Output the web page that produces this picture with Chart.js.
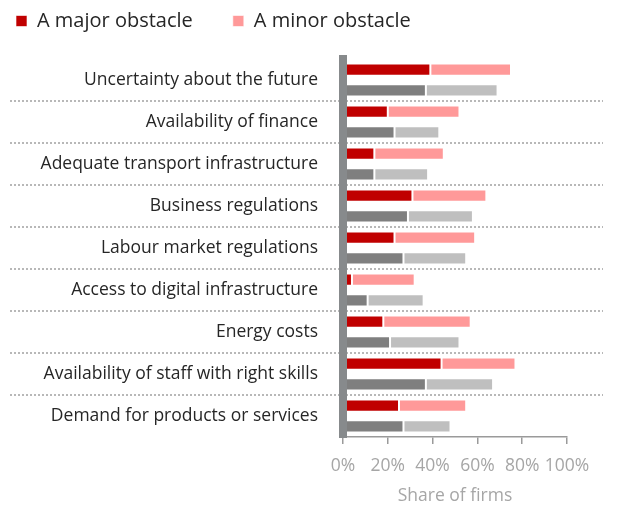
<!DOCTYPE html>
<html><head><meta charset="utf-8">
<script src="https://cdn.jsdelivr.net/npm/chart.js@4/dist/chart.umd.min.js"></script>
<style>html,body{margin:0;padding:0;background:#fff}#wrap{width:621px;height:506px;position:relative}</style>
</head><body><div id="wrap"><canvas id="c" width="621" height="506"></canvas></div>
<script>
const categories = ["Uncertainty about the future","Availability of finance","Adequate transport infrastructure","Business regulations","Labour market regulations","Access to digital infrastructure","Energy costs","Availability of staff with right skills","Demand for products or services"];
const majorLatest = [39, 20, 14, 31, 23, 4, 18, 44, 25];
const minorLatest = [36, 32, 31, 33, 36, 28, 39, 33, 30];
const majorPrev = [37, 23, 14, 29, 27, 11, 21, 37, 27];
const minorPrev = [32, 20, 24, 29, 28, 25, 31, 30, 21];
const xTicks = [0, 20, 40, 60, 80, 100];

const separators = {
  id: 'separators',
  beforeDatasetsDraw(chart) {
    const y = chart.scales.y, ctx = chart.ctx;
    ctx.save();
    ctx.strokeStyle = '#b8b8b8';
    ctx.lineWidth = 2;
    ctx.setLineDash([2, 2]);
    for (let i = 0; i < categories.length - 1; i++) {
      const p = Math.round((y.getPixelForValue(i) + y.getPixelForValue(i + 1)) / 2);
      ctx.beginPath(); ctx.moveTo(10, p); ctx.lineTo(603, p); ctx.stroke();
    }
    ctx.restore();
  }
};

Chart.defaults.font.family = "'Open Sans', sans-serif";
const common = {borderWidth: 1, borderColor: 'rgba(255,255,255,0.6)', borderSkipped: false, categoryPercentage: 0.99, barPercentage: 0.58};
new Chart(document.getElementById('c'), {
  type: 'bar',
  data: {
    labels: categories,
    datasets: [
      Object.assign({label: 'A major obstacle', data: majorLatest, backgroundColor: '#C00000', stack: 'a'}, common),
      Object.assign({label: 'A minor obstacle', data: minorLatest, backgroundColor: '#FF9999', stack: 'a'}, common),
      Object.assign({label: 'A major obstacle (previous)', data: majorPrev, backgroundColor: '#7F7F7F', stack: 'b'}, common),
      Object.assign({label: 'A minor obstacle (previous)', data: minorPrev, backgroundColor: '#BFBFBF', stack: 'b'}, common)
    ]
  },
  options: {
    indexAxis: 'y',
    responsive: false,
    animation: false,
    layout: {padding: {left: -24, right: 54, top: -29, bottom: 0}},
    plugins: {
      tooltip: {enabled: false},
      title: {display: true, text: '', position: 'top', weight: 500, padding: {top: 0, bottom: 6}, font: {size: 10}},
      legend: {
        position: 'top', align: 'start',
        labels: {
          filter: (item) => item.datasetIndex < 2,
          boxWidth: 11, boxHeight: 11, padding: 40,
          color: '#262626', font: {size: 20}
        }
      }
    },
    scales: {
      x: {
        stacked: true, min: 0, max: 100,
        afterBuildTicks: (s) => { s.ticks = xTicks.map(v => ({value: v})); },
        afterFit: (s) => { s.height = 69; },
        grid: {drawOnChartArea: false, drawTicks: true, tickLength: 7, color: '#9a9a9a', lineWidth: 1.5},
        border: {color: '#9a9a9a', width: 1.5},
        ticks: {color: '#a6a6a6', font: {size: 17.5}, padding: 12, maxRotation: 0, autoSkip: false, callback: (v) => v + '%'},
        title: {display: true, text: 'Share of firms', color: '#a6a6a6', font: {size: 17.5}, padding: {top: 0, bottom: -1}}
      },
      y: {
        stacked: true,
        afterFit: (s) => { s.width = 367; },
        grid: {display: false, drawTicks: false},
        border: {display: true, color: '#878a8c', width: 8, z: 1},
        ticks: {color: '#262626', font: {size: 17.5}, padding: 25}
      }
    }
  },
  plugins: [separators]
});
</script></body></html>
